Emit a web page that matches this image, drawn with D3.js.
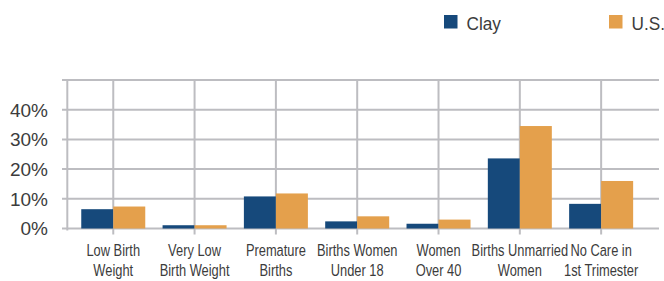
<!DOCTYPE html>
<html>
<head>
<meta charset="utf-8">
<script src="https://cdn.jsdelivr.net/npm/d3@7"></script>
<style>
  body { margin: 0; background: #fff; }
  text { font-family: "Liberation Sans", Arial, sans-serif; fill: #3c3c3c; }
</style>
</head>
<body>
<div id="chart"></div>
<script>
// categories and values (percent)
var categories = [
	["Low Birth", "Weight"],
	["Very Low", "Birth Weight"],
	["Premature", "Births"],
	["Births Women", "Under 18"],
	["Women", "Over 40"],
	["Births Unmarried", "Women"],
	["No Care in", "1st Trimester"]
];
var clay = [6.5, 1.1, 10.8, 2.4, 1.6, 23.6, 8.3];
var us = [7.4, 1.1, 11.8, 4.1, 3.0, 34.5, 16.0];
var seriesNames = ["Clay", "U.S."];
var yTicks = [0, 10, 20, 30, 40, 50];
var yLabels = ["0%", "10%", "20%", "30%", "40%", ""];

var width = 664, height = 281;
var colors = ["#16497b", "#e4a04c"];
var gridColor = "#bdbdc1";

var svg = d3.select("#chart").append("svg")
	.attr("width", width)
	.attr("height", height);

var y = d3.scaleLinear()
	.domain([0, 50])
	.range([228.5, 80]);

var x = d3.scaleBand()
	.domain(d3.range(categories.length))
	.range([72.6, 641.8]);

var xInner = d3.scaleBand()
	.domain([0, 1])
	.range([0, 64]);

function cx(i) { return x(i) + x.bandwidth() / 2; }

// horizontal gridlines
svg.selectAll(".hgrid")
	.data(yTicks)
	.enter()
	.append("line")
	.attr("class", "hgrid")
	.attr("x1", 62)
	.attr("x2", 659)
	.attr("y1", function(d) { return y(d); })
	.attr("y2", function(d) { return y(d); })
	.attr("stroke", gridColor)
	.attr("stroke-width", 2);

// vertical gridlines through category centers
svg.selectAll(".vgrid")
	.data(d3.range(categories.length))
	.enter()
	.append("line")
	.attr("class", "vgrid")
	.attr("x1", cx)
	.attr("x2", cx)
	.attr("y1", y(50))
	.attr("y2", y(0) + 6)
	.attr("stroke", gridColor)
	.attr("stroke-width", 2);

// left axis line
svg.append("line")
	.attr("x1", 67.3)
	.attr("x2", 67.3)
	.attr("y1", y(50))
	.attr("y2", y(0) + 2)
	.attr("stroke", gridColor)
	.attr("stroke-width", 2);

// y labels
svg.selectAll(".ylabel")
	.data(yTicks)
	.enter()
	.append("text")
	.attr("class", "ylabel")
	.attr("x", 48)
	.attr("y", function(d) { return y(d); })
	.attr("dy", "0.36em")
	.style("text-anchor", "end")
	.style("font-size", "19px")
	.text(function(d, i) { return yLabels[i]; });

// bars
var series = [clay, us];
series.forEach(function(vals, s) {
	svg.selectAll(".bar" + s)
		.data(vals)
		.enter()
		.append("rect")
		.attr("class", "bar" + s)
		.attr("x", function(d, i) { return cx(i) - 32 + xInner(s); })
		.attr("width", xInner.bandwidth())
		.attr("y", function(d) { return y(d); })
		.attr("height", function(d) { return y(0) - y(d); })
		.attr("fill", colors[s]);
});

// x labels (condensed look via horizontal scale)
var xl = svg.selectAll(".xlabel")
	.data(categories)
	.enter()
	.append("g")
	.attr("class", "xlabel")
	.attr("transform", function(d, i) { return "translate(" + cx(i) + ",0) scale(0.78,1)"; })
	.append("text")
	.style("text-anchor", "middle")
	.style("font-size", "16.5px");
xl.append("tspan")
	.attr("x", 0)
	.attr("y", 256)
	.text(function(d) { return d[0]; });
xl.append("tspan")
	.attr("x", 0)
	.attr("y", 276)
	.text(function(d) { return d[1]; });

// legend
var legendX = [444, 609];
seriesNames.forEach(function(name, s) {
	svg.append("rect")
		.attr("x", legendX[s])
		.attr("y", 15)
		.attr("width", 13.5)
		.attr("height", 13.5)
		.attr("fill", colors[s]);
	svg.append("g")
		.attr("transform", "translate(" + (legendX[s] + 22.5) + ",29.5) scale(0.93,1)")
		.append("text")
		.attr("x", 0)
		.attr("y", 0)
		.style("font-size", "18.5px")
		.text(name);
});
</script>
</body>
</html>
